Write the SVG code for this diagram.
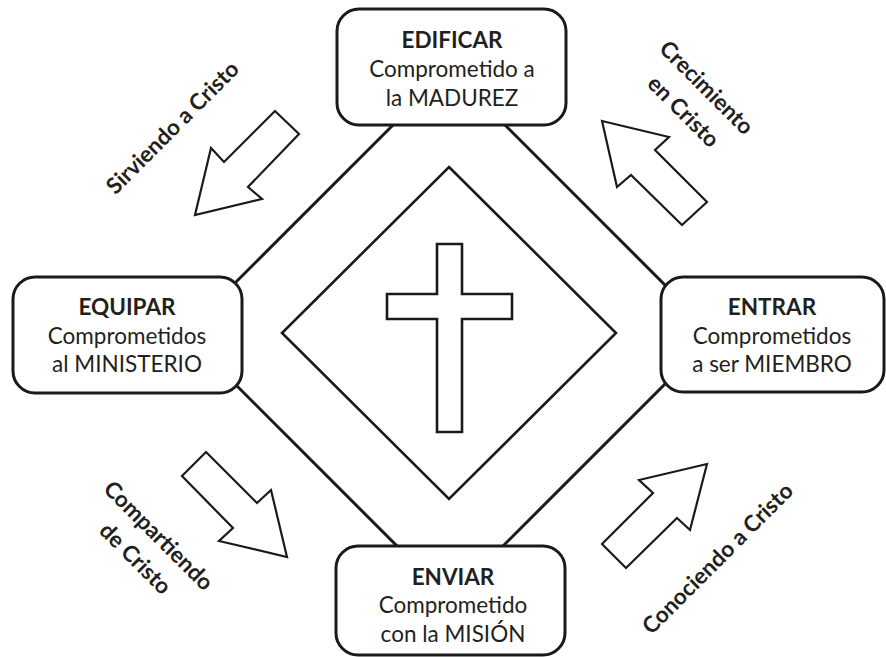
<svg xmlns="http://www.w3.org/2000/svg" width="886" height="657" viewBox="0 0 886 657">
<style>
.box{fill:#fff;stroke:#1a1a1a;stroke-width:3}
.ln{fill:none;stroke:#1a1a1a;stroke-width:3}
.arr{fill:#fff;stroke:#1a1a1a;stroke-width:2.2;stroke-linejoin:miter}
.t{font-family:Lato,"Liberation Sans",sans-serif;font-size:22.5px;fill:#231f20;text-anchor:middle}
.b{font-weight:bold}
.lab{font-family:Lato,"Liberation Sans",sans-serif;font-size:22.5px;font-weight:bold;fill:#231f20;text-anchor:middle}
</style>
<rect width="886" height="657" fill="#fff"/>
<g id="connectors">
<polygon class="ln" points="449,69 714.5,334.5 450,599 184.5,333.5"/>
</g>
<g id="center">
<polygon class="ln" points="449,167 616,333 449,499 282,333" style="stroke-width:2.6"/>
<path class="ln" style="stroke-width:2.6" d="M437,244 H462 V294 H512 V319 H462 V432 H437 V319 H387 V294 H437 Z"/>
</g>
<g id="edificar">
<rect class="box" x="337" y="9" width="229" height="116" rx="22"/>
<text class="t b" x="452" y="48">EDIFICAR</text>
<text class="t" x="452" y="77">Comprometido a</text>
<text class="t" x="452" y="106">la MADUREZ</text>
</g>
<g id="equipar">
<rect class="box" x="13" y="277" width="229" height="116" rx="22"/>
<text class="t b" x="127" y="315">EQUIPAR</text>
<text class="t" x="127" y="344">Comprometidos</text>
<text class="t" x="127" y="372">al MINISTERIO</text>
</g>
<g id="entrar">
<rect class="box" x="661" y="277" width="223" height="115" rx="22"/>
<text class="t b" x="772" y="315">ENTRAR</text>
<text class="t" x="772" y="344">Comprometidos</text>
<text class="t" x="772" y="372">a ser MIEMBRO</text>
</g>
<g id="enviar">
<rect class="box" x="336" y="546" width="229" height="109" rx="22"/>
<text class="t b" x="453" y="585">ENVIAR</text>
<text class="t" x="453" y="613">Comprometido</text>
<text class="t" x="453" y="642">con la MISIÓN</text>
</g>
<g id="arrow-sirviendo">
<polygon class="arr" points="275,111 299,134 248,187 262,199 195,215 211,148 224,162"/>
<text class="lab" transform="translate(178,133) rotate(-45)">Sirviendo a Cristo</text>
</g>
<g id="arrow-crecimiento">
<polygon class="arr" points="602,121 669,137 655,150 707,202 682,225 631,175 617,187"/>
<text class="lab" transform="translate(701,93) rotate(45)">Crecimiento</text>
<text class="lab" transform="translate(678,117) rotate(45)">en Cristo</text>
</g>
<g id="arrow-compartiendo">
<polygon class="arr" points="206,452 257,503 271,490 287,557 219,541 233,528 182,476"/>
<text class="lab" transform="translate(153,541) rotate(45)">Compartiendo</text>
<text class="lab" transform="translate(130,564) rotate(45)">de Cristo</text>
</g>
<g id="arrow-conociendo">
<polygon class="arr" points="707,464 639,480 653,493 602,544 626,568 677,518 690,530"/>
<text class="lab" transform="translate(723,564) rotate(-45)">Conociendo a Cristo</text>
</g>
</svg>
